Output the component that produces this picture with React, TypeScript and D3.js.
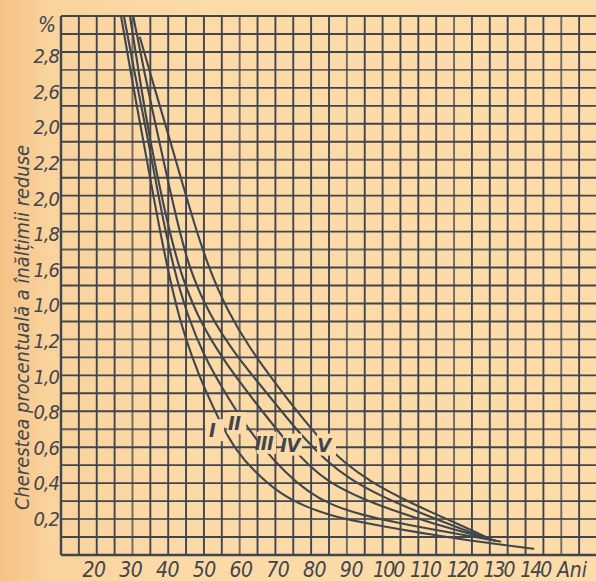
import { useEffect, useRef } from 'react';
import * as d3 from 'd3';

type Pt = [number, number];

// axis ticks as printed on the scan
const yTickValues = [0.2, 0.4, 0.6, 0.8, 1.0, 1.2, 1.4, 1.6, 1.8, 2.0, 2.2, 2.4, 2.6, 2.8];
const yTickLabels = ['0,2', '0,4', '0,6', '0,8', '1,0', '1,2', '1,0', '1,6', '1,8', '2,0', '2,2', '2,0', '2,6', '2,8'];
const xTickValues = [20, 30, 40, 50, 60, 70, 80, 90, 100, 110, 120, 130, 140];
const yUnit = '%';
const xUnit = 'Ani';
const yTitle = 'Cherestea procentuală a înălțimii reduse';

// curves: [age, percent]
const curveI: Pt[] = [
  [26.8, 3.0], [29.9, 2.64], [33.0, 2.31], [36.3, 1.95], [39.7, 1.6], [43.3, 1.3], [46.7, 1.1],
  [50.3, 0.92], [54.5, 0.74], [59.0, 0.58], [64.3, 0.46], [71.3, 0.34], [78.3, 0.27], [85.3, 0.22],
  [94.6, 0.18], [104.1, 0.145], [113.3, 0.115], [122.6, 0.085], [132.4, 0.06], [142.2, 0.035],
];
const curveII: Pt[] = [
  [27.6, 3.0], [31.0, 2.64], [34.4, 2.31], [37.7, 1.95], [41.4, 1.6], [45.6, 1.32], [50.0, 1.11],
  [55.1, 0.93], [60.7, 0.75], [66.3, 0.6], [72.7, 0.46], [79.2, 0.35], [85.3, 0.28], [94.6, 0.22],
  [104.1, 0.18], [113.3, 0.145], [123.1, 0.11], [132.9, 0.075],
];
const curveIII: Pt[] = [
  [29.3, 3.0], [32.1, 2.64], [34.9, 2.31], [38.6, 1.95], [42.8, 1.6], [48.1, 1.33], [54.0, 1.13],
  [60.1, 0.96], [66.3, 0.8], [72.7, 0.64], [79.2, 0.5], [85.3, 0.4], [94.6, 0.31], [104.1, 0.24],
  [113.3, 0.18], [123.1, 0.125], [131.5, 0.08],
];
const curveIV: Pt[] = [
  [30.2, 3.0], [33.8, 2.64], [37.4, 2.31], [41.4, 1.95], [45.6, 1.6], [51.7, 1.33], [58.7, 1.12],
  [65.2, 0.96], [71.3, 0.81], [77.5, 0.66], [83.9, 0.53], [90.9, 0.42], [99.3, 0.33], [108.6, 0.25],
  [117.5, 0.18], [124.0, 0.13], [130.5, 0.085],
];
const curveV: Pt[] = [
  [32.1, 2.88], [36.3, 2.59], [40.5, 2.31], [46.1, 1.92], [51.2, 1.6], [56.8, 1.35], [62.9, 1.15],
  [69.1, 0.98], [76.4, 0.79], [83.1, 0.63], [89.5, 0.51], [96.5, 0.41], [104.9, 0.32], [113.3, 0.24],
  [122.6, 0.16], [130.0, 0.09],
];
const curveNames = ['I', 'II', 'III', 'IV', 'V'];
const curveLabelPos: Pt[] = [[52.3, 0.7], [58.5, 0.74], [66.8, 0.63], [74.1, 0.62], [83.6, 0.62]];

const W = 596;
const H = 581;
const INK = '#41454c';
const PAPER = '#fcdaa7';
const FONT = '"Liberation Sans Narrow", "DejaVu Sans Condensed", "Roboto", sans-serif';

export default function App() {
  const svgRef = useRef<SVGSVGElement>(null);

  useEffect(() => {
    if (!svgRef.current) return;
    const svg = d3.select(svgRef.current);
    svg.selectAll('*').remove();

    const x = d3.scaleLinear().domain([10, 160]).range([61, 597]);
    const y = d3.scaleLinear().domain([0, 3]).range([555, 16]);
    // printed numbers drift a little to the right of the grid
    const xLab = d3.scaleLinear().domain([20, 150]).range([94, 572]);

    const defs = svg.append('defs');
    const grad = defs.append('linearGradient').attr('id', 'paper').attr('x1', 0).attr('x2', 1);
    grad.append('stop').attr('offset', '0%').attr('stop-color', '#f4c285');
    grad.append('stop').attr('offset', '8%').attr('stop-color', '#f9d29c');
    grad.append('stop').attr('offset', '30%').attr('stop-color', PAPER);
    grad.append('stop').attr('offset', '100%').attr('stop-color', '#fddca9');
    defs.append('clipPath').attr('id', 'plot')
      .append('rect')
      .attr('x', x(10)).attr('y', y(3))
      .attr('width', x(160) - x(10)).attr('height', y(0) - y(3));

    svg.append('rect').attr('width', W).attr('height', H).attr('fill', 'url(#paper)');

    const g = svg.append('g');

    // grid: 0.1 % rows, 5 year columns
    const rows = d3.range(0, 31).map((i) => i / 10);
    const cols = d3.range(10, 161, 5);
    g.selectAll('.hline')
      .data(rows)
      .enter()
      .append('line')
      .attr('x1', x(10)).attr('x2', W)
      .attr('y1', (d) => y(d)).attr('y2', (d) => y(d))
      .attr('stroke', INK)
      .attr('stroke-width', (d, i) => (i === 0 ? 2.4 : 1.9))
      .attr('opacity', (_, i) => (i % 5 === 2 ? 0.8 : 1));
    g.selectAll('.vline')
      .data(cols)
      .enter()
      .append('line')
      .attr('x1', (d) => x(d)).attr('x2', (d) => x(d))
      .attr('y1', y(3)).attr('y2', y(0))
      .attr('stroke', INK)
      .attr('stroke-width', (_, i) => (i === 0 ? 2.4 : 1.9))
      .attr('opacity', (_, i) => (i % 6 === 4 ? 0.75 : 1));

    const line = d3.line<Pt>()
      .x((d) => x(d[0]))
      .y((d) => y(d[1]))
      .curve(d3.curveBasis);

    const curves = [curveI, curveII, curveIII, curveIV, curveV];
    g.append('g')
      .attr('clip-path', 'url(#plot)')
      .selectAll('path')
      .data(curves)
      .enter()
      .append('path')
      .attr('d', (d) => line(d))
      .attr('fill', 'none')
      .attr('stroke', INK)
      .attr('stroke-width', 2.1)
      .attr('stroke-linecap', 'round');

    // curve labels sit in small breaks of the lines
    const lab = g.append('g');
    lab.selectAll('rect')
      .data(curveLabelPos)
      .enter()
      .append('rect')
      .attr('x', (d) => x(d[0]) - 7)
      .attr('y', (d) => y(d[1]) - 10)
      .attr('width', 19)
      .attr('height', 22)
      .attr('fill', PAPER);
    lab.selectAll('text')
      .data(curveLabelPos)
      .enter()
      .append('text')
      .attr('x', (d) => x(d[0]))
      .attr('y', (d) => y(d[1]) + 8)
      .attr('text-anchor', 'middle')
      .attr('font-family', FONT)
      .attr('font-style', 'italic')
      .attr('font-weight', 700)
      .attr('font-size', 20)
      .attr('letter-spacing', -0.5)
      .attr('fill', INK)
      .text((_, i) => curveNames[i]);

    // y tick labels
    const ticks = svg.append('g')
      .attr('font-family', FONT)
      .attr('font-style', 'italic')
      .attr('font-size', 20)
      .attr('fill', INK);
    ticks.selectAll('.ylab')
      .data(yTickValues)
      .enter()
      .append('text')
      .attr('x', 59)
      .attr('y', (d) => y(d) + 7 + (d - 0.2) * 1.6)
      .attr('text-anchor', 'end')
      .attr('letter-spacing', -1)
      .text((_, i) => yTickLabels[i]);
    ticks.append('text')
      .attr('x', 47)
      .attr('y', y(3) + 16)
      .attr('text-anchor', 'middle')
      .attr('font-size', 21)
      .text(yUnit);

    // x tick labels
    ticks.selectAll('.xlab')
      .data(xTickValues)
      .enter()
      .append('text')
      .attr('x', (d) => xLab(d))
      .attr('y', y(0) + 22)
      .attr('text-anchor', 'middle')
      .attr('font-size', 21)
      .attr('letter-spacing', (d) => (d >= 100 ? -2 : -0.5))
      .text((d) => d);
    ticks.append('text')
      .attr('x', xLab(150))
      .attr('y', y(0) + 22)
      .attr('text-anchor', 'middle')
      .attr('font-size', 21)
      .text(xUnit);

    // rotated axis title
    svg.append('text')
      .attr('transform', `translate(29, ${(145 + 510) / 2}) rotate(-90)`)
      .attr('text-anchor', 'middle')
      .attr('font-family', FONT)
      .attr('font-style', 'italic')
      .attr('font-size', 19)
      .attr('fill', INK)
      .attr('textLength', 365)
      .attr('lengthAdjust', 'spacingAndGlyphs')
      .text(yTitle);
  }, []);

  return (
    <svg
      ref={svgRef}
      width={W}
      height={H}
      style={{ position: 'absolute', left: 0, top: 0, display: 'block' }}
      role="img"
      aria-label="Cherestea procentuală a înălțimii reduse"
    />
  );
}
